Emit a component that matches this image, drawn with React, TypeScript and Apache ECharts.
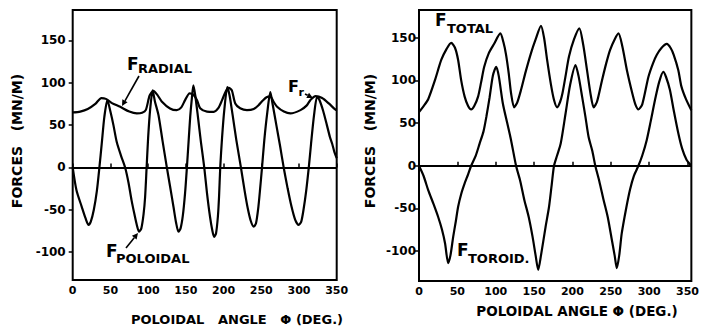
import React, { useEffect, useRef } from "react";
import * as echarts from "echarts";

// Left panel: poloidal angle (deg) vs force (MN/m)
const leftRadial: [number, number][] = [
  [0, 65], [10, 66], [20, 69], [30, 75], [38, 82], [44, 81], [52, 76], [63, 71.6], [75, 66],
  [85, 63.8], [92, 64.5], [97, 68], [102, 85], [107, 90.5], [112, 86], [118, 78], [129, 69.7],
  [138, 67.7], [144, 71], [149, 79.5], [155, 87.5], [160, 86], [165, 79], [169, 70], [178, 66],
  [187, 65.7], [193, 70], [198, 79.5], [203, 90], [207, 94], [211, 91], [215.5, 75.6], [222, 70],
  [231, 67.7], [240, 69], [246.5, 73.6], [252, 79], [257, 83], [262, 84], [266, 78], [271, 71.7],
  [280, 66], [288.6, 63.8], [302, 67.7], [310, 73], [315, 79.5], [322, 84.3], [330.7, 82],
  [339.5, 75.6], [348, 68.5], [350, 67.5],
];

const leftPoloidal: [number, number][] = [
  [0, 0], [5, -27], [12, -46.5], [17, -60], [21, -68], [24, -64], [28, -50], [32, -28], [35.4, 0],
  [38.5, 28], [42, 60], [46, 79.5], [50, 66], [54, 50], [58.4, 30], [64, 14], [69.5, 0], [74, -18],
  [78, -38.6], [82, -56], [85, -68], [88, -76], [91, -72], [94, -55], [96, -35], [98, 0], [100, 35],
  [102.6, 67.7], [106, 91], [109, 78], [113.7, 62], [119, 32], [124.8, 0], [129, -22],
  [133.6, -46.5], [137, -65], [140.2, -76], [143, -72], [146, -57], [149, -30], [151.4, 0],
  [153.6, 30], [155.8, 60], [158, 82], [160, 97], [162.5, 85], [166, 60], [170, 30], [174.4, 0],
  [178, -30], [182, -58], [185, -74], [187.5, -82], [190, -78], [192.5, -58], [194, -35],
  [195.6, 0], [198, 35], [201, 68], [205, 95], [208, 85], [212, 62], [217, 32], [223, 0],
  [228, -28], [232, -48], [236, -63], [240, -70], [243, -66], [246, -48], [248.5, -25], [251, 0],
  [254, 32], [258, 65], [262, 89], [265, 75], [270, 50], [275, 25], [279.7, 0], [285, -25],
  [290, -46], [295, -62], [299.6, -68], [303, -64], [306, -50], [309.5, -28], [313, 0], [316, 28],
  [320, 62], [324, 83.5], [327, 80], [332, 67], [337, 50], [341, 36], [344, 28], [347, 18],
  [350, 11],
];

// Right panel
const rightTotal: [number, number][] = [
  [0, 63], [6, 70], [12, 78], [20.7, 100], [29, 124], [36, 137], [42, 144], [47, 138], [51, 124],
  [55, 100], [59.5, 81], [64, 70], [68, 66], [72, 70], [77, 81], [81, 98], [85, 116], [91, 132],
  [98, 143], [106, 155], [110, 145], [113.5, 130], [117, 108], [120, 85], [124, 68.5], [128, 74],
  [133, 89], [139, 110], [146, 132], [152, 148], [159, 164], [163, 150], [167, 124], [172, 95],
  [176, 77], [180, 68.5], [184, 75], [187, 85], [191, 105], [195.5, 128], [202, 148], [209, 161],
  [214, 142], [219, 112], [224, 82], [227.7, 68.5], [232, 75], [238.5, 100], [244, 120],
  [249, 135.6], [255, 148], [260, 155], [265, 140], [271, 112], [278, 85], [282, 72], [286, 66],
  [291, 72], [299, 104], [305, 120], [310, 130], [316, 138], [323, 142.7], [328, 138], [332, 130],
  [338, 112], [342, 93], [348, 78], [355, 65],
];

const rightToroidal: [number, number][] = [
  [0, 0], [6, -12], [12, -28.5], [19, -45], [25, -60], [30, -75], [34, -91], [38, -114], [41, -105],
  [44.6, -83], [48, -65], [51, -48], [55, -33], [59.5, -20.6], [64, -10], [68, 0], [74, 12],
  [79, 26], [84, 40], [87.8, 57.5], [92, 80], [96.4, 106], [100.7, 116], [104, 105], [109.3, 73],
  [115, 50], [120, 30], [126.5, 0], [132, -18], [137.3, -40], [143, -60], [148, -83], [152, -105],
  [155.4, -122], [159, -105], [165, -71.5], [169.5, -48], [173, -22], [176, 0], [180, 12],
  [184.7, 26], [191, 61], [197, 95], [204, 118], [208, 105], [212.6, 81], [217, 57], [221, 34],
  [226, 17], [229.8, 0], [235, -18], [240.6, -40], [246, -60], [251.4, -87], [255, -105],
  [257.8, -120], [261, -105], [264.3, -79], [270, -50], [275, -28], [280, -12], [286, 0], [291, 12],
  [296.8, 30], [302, 52], [307.6, 77], [313, 98], [318.4, 110], [322, 104], [327, 89], [332, 65],
  [338, 38], [343, 20], [348.7, 7], [355, 0],
];

const yTicks = [-100, -50, 0, 50, 100, 150];
const xTicks = [0, 50, 100, 150, 200, 250, 300, 350];

const FONT = "DejaVu Sans";

export default function App() {
  const ref = useRef<HTMLDivElement>(null);

  useEffect(() => {
    if (!ref.current) return;
    const chart = echarts.init(ref.current, undefined, { renderer: "svg" });

    const lineSeries = (data: [number, number][], idx: number, zero: boolean) => ({
      type: "line",
      xAxisIndex: idx,
      yAxisIndex: idx,
      data,
      showSymbol: false,
      smooth: 0.25,
      clip: true,
      lineStyle: { color: "#000", width: 2.2 },
      itemStyle: { color: "#000" },
      markLine: zero
        ? {
            silent: true,
            symbol: "none",
            label: { show: false },
            lineStyle: { color: "#000", width: 2, type: "solid" },
            data: [{ yAxis: 0 }],
          }
        : undefined,
    });

    const xAxisCfg = (gridIndex: number, max: number) => ({
      type: "value",
      gridIndex,
      min: 0,
      max,
      splitLine: { show: false },
      axisLine: { show: false },
      axisTick: { show: true, inside: true, length: 4, customValues: xTicks, lineStyle: { color: "#000", width: 1.5 } },
      axisLabel: {
        customValues: xTicks,
        color: "#000",
        fontFamily: FONT,
        fontWeight: "bold",
        fontSize: 11,
        margin: 5,
      },
    });

    const yAxisCfg = (gridIndex: number, min: number, max: number, margin: number) => ({
      type: "value",
      gridIndex,
      min,
      max,
      splitLine: { show: false },
      axisLine: { show: false },
      axisTick: { show: true, inside: false, length: 4, customValues: yTicks, lineStyle: { color: "#000", width: 1.5 } },
      axisLabel: {
        customValues: yTicks,
        color: "#000",
        fontFamily: FONT,
        fontWeight: "bold",
        fontSize: 12,
        margin,
      },
    });

    const txt = (text: string, x: number, y: number, size: number, extra: any = {}) => ({
      type: "text",
      x,
      y,
      ...extra,
      style: {
        text,
        fill: "#000",
        font: `bold ${size}px "${FONT}"`,
        textAlign: extra.align || "left",
        textVerticalAlign: "middle",
      },
    });

    const arrow = (x1: number, y1: number, x2: number, y2: number) => {
      const ang = Math.atan2(y2 - y1, x2 - x1);
      const L = 6, W = 3;
      const bx = x2 - L * Math.cos(ang), by = y2 - L * Math.sin(ang);
      const px = -Math.sin(ang) * W, py = Math.cos(ang) * W;
      return [
        { type: "line", shape: { x1, y1, x2: bx, y2: by }, style: { stroke: "#000", lineWidth: 1.6 } },
        {
          type: "polygon",
          shape: { points: [[x2, y2], [bx + px, by + py], [bx - px, by - py]] },
          style: { fill: "#000" },
        },
      ];
    };

    chart.setOption({
      animation: false,
      backgroundColor: "#fff",
      grid: [
        { left: 72.7, top: 10, width: 264, height: 270, show: true, borderColor: "#000", borderWidth: 2, backgroundColor: "transparent" },
        { left: 419, top: 10, width: 274.3, height: 271, show: true, borderColor: "#000", borderWidth: 2, backgroundColor: "transparent" },
      ],
      xAxis: [xAxisCfg(0, 350), xAxisCfg(1, 355)],
      yAxis: [yAxisCfg(0, -133, 186, 7), yAxisCfg(1, -135, 182.5, 3)],
      series: [
        lineSeries(leftRadial, 0, true),
        lineSeries(leftPoloidal, 0, false),
        lineSeries(rightTotal, 1, true),
        lineSeries(rightToroidal, 1, false),
      ],
      graphic: [
        // axis titles
        txt("FORCES   (MN/M)", 17, 141, 14, { rotation: Math.PI / 2, align: "center" }),
        txt("FORCES   (MN/M)", 370, 141, 14, { rotation: Math.PI / 2, align: "center" }),
        txt("POLOIDAL   ANGLE   Φ (DEG.)", 237, 319, 13, { align: "center" }),
        txt("POLOIDAL ANGLE Φ (DEG.)", 577, 311, 13.5, { align: "center" }),
        // curve labels, left
        txt("F", 127, 64, 17),
        txt("RADIAL", 138, 68, 13),
        txt("F", 106, 251, 17),
        txt("POLOIDAL", 116, 258, 13),
        txt("F", 288, 86, 16),
        txt("r", 298.5, 92, 11),
        // curve labels, right
        txt("F", 435, 20, 17),
        txt("TOTAL", 447, 28, 13),
        txt("F", 457, 250, 17),
        txt("TOROID.", 468, 258, 13),
        // arrows
        ...arrow(139, 76, 122, 106),
        ...arrow(126, 248, 138, 233),
        ...arrow(305, 94, 313, 98),
      ],
    });

    return () => chart.dispose();
  }, []);

  return (
    <div
      ref={ref}
      style={{ position: "fixed", left: 0, top: 0, width: 702, height: 328, background: "#fff" }}
    />
  );
}
